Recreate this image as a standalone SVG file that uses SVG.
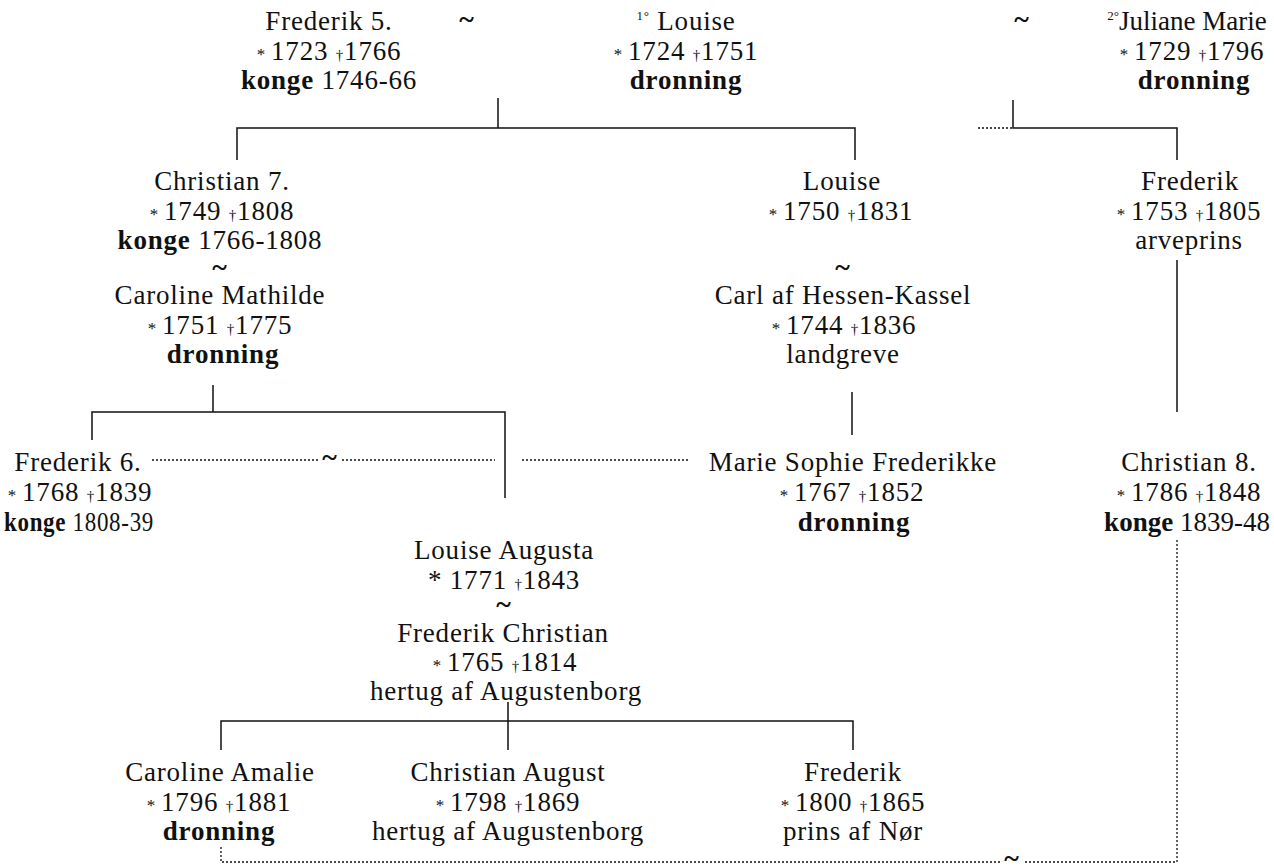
<svg xmlns="http://www.w3.org/2000/svg" width="1274" height="866" viewBox="0 0 1274 866">
<style>
text{font-family:"Liberation Serif","Times New Roman",serif;font-size:27px;fill:#111;text-anchor:middle;letter-spacing:0.8px}
.b{font-weight:bold}
.t{font-weight:bold;font-size:28px}
.s{font-size:17px}
.d{font-size:15px}
.sup{font-size:13px}
.ln{stroke:#111;stroke-width:1.5;fill:none}
.dt{stroke:#111;stroke-width:1.3;fill:none;stroke-dasharray:2 2}
</style>
<rect width="1274" height="866" fill="#fff"/>
<g id="connectors">
<path class="ln" d="M498 98V128M237 160V128H855V160"/>
<path class="ln" d="M1013 100V128H1177V160"/>
<path class="dt" d="M978 128H1013"/>
<path class="ln" d="M1177 260V412"/>
<path class="ln" d="M852 392V435"/>
<path class="ln" d="M213 385V412M92 440V412H505V498"/>
<path class="dt" d="M152 460H318M342 460H495M522 460H690"/>
<text class="t" x="330" y="466">~</text>
<path class="ln" d="M508 702V750M221 750V721H853V750"/>
<path class="dt" d="M1177 540V862H1024M1000 862H221V845"/>
<text class="t" x="1012" y="867">~</text>
<text class="t" x="467" y="28">~</text>
<text class="t" x="1022" y="28">~</text>
</g>
<g id="frederik5">
<text x="329" y="30">Frederik 5.</text>
<text x="329" y="60"><tspan class="s">* </tspan>1723 <tspan class="d">†</tspan>1766</text>
<text x="329" y="89"><tspan class="b">konge</tspan> 1746-66</text>
</g>
<g id="louise1">
<text x="686" y="30"><tspan class="sup" dy="-10">1°</tspan><tspan dy="10"> Louise</tspan></text>
<text x="686" y="60"><tspan class="s">* </tspan>1724 <tspan class="d">†</tspan>1751</text>
<text x="686" y="89" class="b">dronning</text>
</g>
<g id="julianemarie">
<text x="1187" y="30" style="letter-spacing:0"><tspan class="sup" dy="-10">2°</tspan><tspan dy="10">Juliane Marie</tspan></text>
<text x="1192" y="60"><tspan class="s">* </tspan>1729 <tspan class="d">†</tspan>1796</text>
<text x="1194" y="89" class="b">dronning</text>
</g>
<g id="christian7">
<text x="222" y="190">Christian 7.</text>
<text x="222" y="220"><tspan class="s">* </tspan>1749 <tspan class="d">†</tspan>1808</text>
<text x="220" y="249"><tspan class="b">konge</tspan> 1766-1808</text>
<text class="t" x="220" y="276">~</text>
</g>
<g id="carolinemathilde">
<text x="220" y="304">Caroline Mathilde</text>
<text x="220" y="334"><tspan class="s">* </tspan>1751 <tspan class="d">†</tspan>1775</text>
<text x="223" y="363" class="b">dronning</text>
</g>
<g id="louise2">
<text x="842" y="190">Louise</text>
<text x="841" y="220"><tspan class="s">* </tspan>1750 <tspan class="d">†</tspan>1831</text>
<text class="t" x="843" y="276">~</text>
</g>
<g id="carl">
<text x="843" y="304">Carl af Hessen-Kassel</text>
<text x="844" y="334"><tspan class="s">* </tspan>1744 <tspan class="d">†</tspan>1836</text>
<text x="843" y="363">landgreve</text>
</g>
<g id="frederik-arveprins">
<text x="1190" y="190">Frederik</text>
<text x="1189" y="220"><tspan class="s">* </tspan>1753 <tspan class="d">†</tspan>1805</text>
<text x="1189" y="249">arveprins</text>
</g>
<g id="frederik6">
<text x="78" y="471">Frederik 6.</text>
<text x="80" y="501"><tspan class="s">* </tspan>1768 <tspan class="d">†</tspan>1839</text>
<text x="79" y="531" textLength="150" lengthAdjust="spacingAndGlyphs"><tspan class="b">konge</tspan> 1808-39</text>
</g>
<g id="mariesophie">
<text x="853" y="471">Marie Sophie Frederikke</text>
<text x="852" y="501"><tspan class="s">* </tspan>1767 <tspan class="d">†</tspan>1852</text>
<text x="854" y="531" class="b">dronning</text>
</g>
<g id="christian8">
<text x="1189" y="471">Christian 8.</text>
<text x="1189" y="501"><tspan class="s">* </tspan>1786 <tspan class="d">†</tspan>1848</text>
<text x="1187" y="531" style="letter-spacing:0"><tspan class="b">konge</tspan> 1839-48</text>
</g>
<g id="louiseaugusta">
<text x="504" y="559">Louise Augusta</text>
<text x="504" y="589">* 1771 <tspan class="d">†</tspan>1843</text>
<text class="t" x="504" y="613">~</text>
</g>
<g id="frederikchristian">
<text x="503" y="642">Frederik Christian</text>
<text x="505" y="671"><tspan class="s">* </tspan>1765 <tspan class="d">†</tspan>1814</text>
<text x="506" y="700">hertug af Augustenborg</text>
</g>
<g id="carolineamalie">
<text x="220" y="781">Caroline Amalie</text>
<text x="219" y="811"><tspan class="s">* </tspan>1796 <tspan class="d">†</tspan>1881</text>
<text x="219" y="840" class="b">dronning</text>
</g>
<g id="christianaugust">
<text x="508" y="781">Christian August</text>
<text x="508" y="811"><tspan class="s">* </tspan>1798 <tspan class="d">†</tspan>1869</text>
<text x="508" y="840">hertug af Augustenborg</text>
</g>
<g id="frederik-nor">
<text x="853" y="781">Frederik</text>
<text x="853" y="811"><tspan class="s">* </tspan>1800 <tspan class="d">†</tspan>1865</text>
<text x="853" y="840">prins af Nør</text>
</g>
</svg>
